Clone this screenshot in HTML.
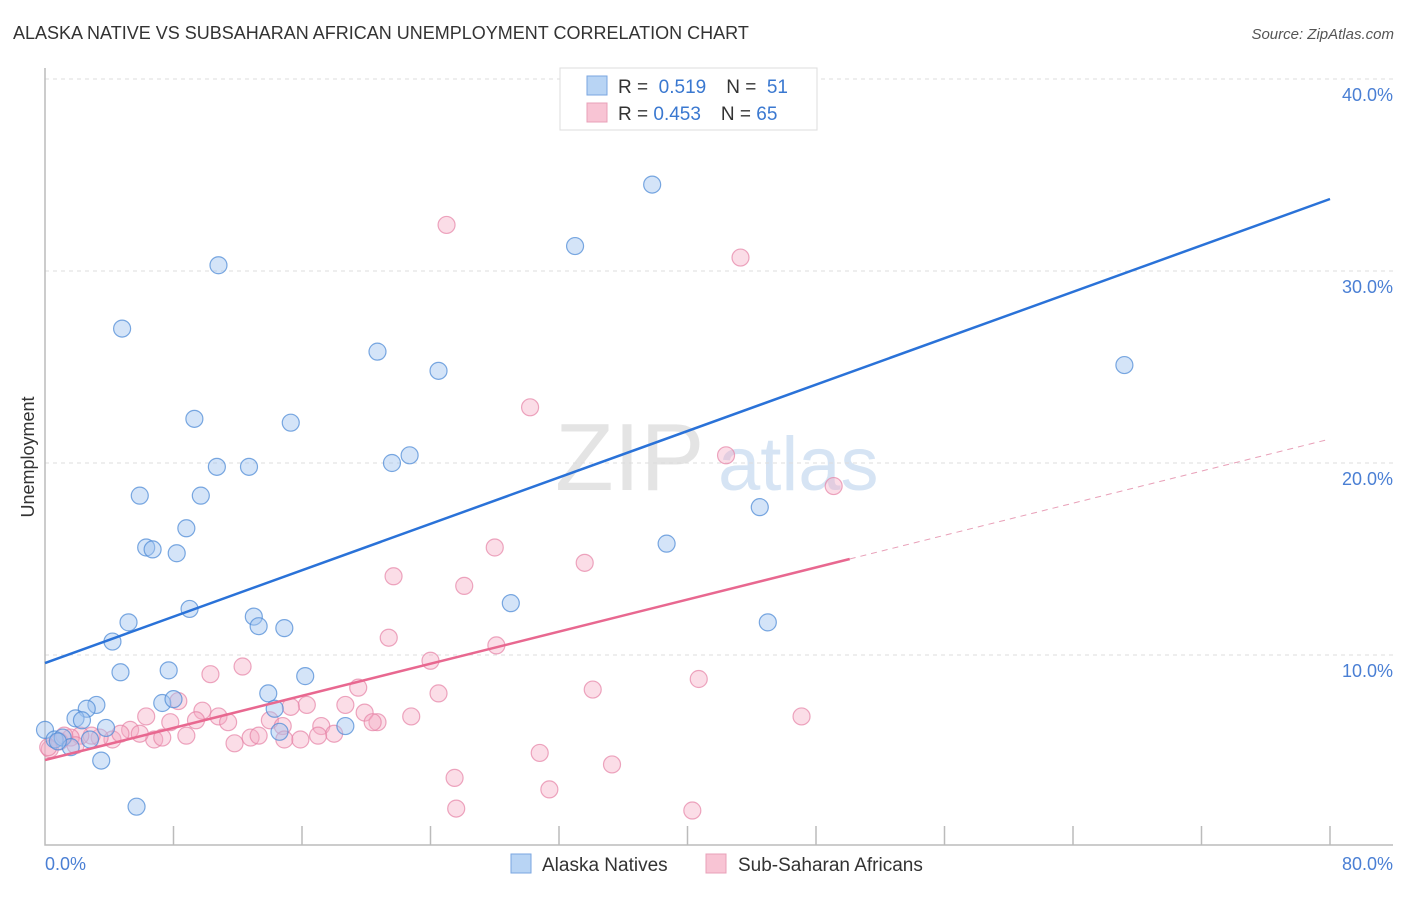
<!DOCTYPE html>
<html><head><meta charset="utf-8"><style>
body{margin:0;background:#fff;font-family:"Liberation Sans",sans-serif}
svg text{font-family:"Liberation Sans",sans-serif}
</style></head><body>
<svg id="c" width="1406" height="892" xmlns="http://www.w3.org/2000/svg">
<text x="13" y="39" font-size="18" fill="#333">ALASKA NATIVE VS SUBSAHARAN AFRICAN UNEMPLOYMENT CORRELATION CHART</text>
<text x="1394" y="39" font-size="15" fill="#555" text-anchor="end" font-style="italic">Source: ZipAtlas.com</text>
<text x="555" y="490" font-size="96" fill="#e4e4e4" font-family="Liberation Serif">ZIP</text>
<text x="718" y="490" font-size="76" fill="#d6e4f4">atlas</text>
<g id="grid"></g>
<g id="pts"></g>
<g id="lines"></g>
<text transform="translate(34,457) rotate(-90)" font-size="18" fill="#333" text-anchor="middle">Unemployment</text>
<text x="45" y="870" font-size="18" fill="#4a7fd4">0.0%</text>
<text x="1393" y="870" font-size="18" fill="#4a7fd4" text-anchor="end">80.0%</text>
<g>
<rect x="560" y="68" width="257" height="62" fill="#fff" stroke="#ddd"/>
<rect x="587" y="76" width="20" height="19" fill="#b8d4f4" stroke="#7aa6e0"/>
<rect x="587" y="103" width="20" height="19" fill="#f8c4d4" stroke="#e8a0b8"/>
<text x="618" y="93" font-size="19" fill="#333">R = <tspan fill="#3a78d0">&#160;0.519</tspan><tspan dx="20">N = </tspan><tspan fill="#3a78d0">&#160;51</tspan></text>
<text x="618" y="120" font-size="19" fill="#333">R = <tspan fill="#3a78d0">0.453</tspan><tspan dx="20">N = </tspan><tspan fill="#3a78d0">65</tspan></text>
</g>
<g>
<rect x="511" y="854" width="20" height="19" fill="#b8d4f4" stroke="#7aa6e0"/>
<text x="542" y="871" font-size="19" fill="#333">Alaska Natives</text>
<rect x="706" y="854" width="20" height="19" fill="#f8c4d4" stroke="#e8a0b8"/>
<text x="738" y="871" font-size="19" fill="#333">Sub-Saharan Africans</text>
</g>
</svg>
<script>
const yTicks=[10,20,30,40];
const yTickLabels=["10.0%","20.0%","30.0%","40.0%"];
const xTicks=[8,16,24,32,40,48,56,64,72,80];
const blueX=[37.8,33.0,10.8,4.8,20.7,24.5,67.2,9.3,15.3,10.7,12.7,21.6,22.7,5.9,9.7,44.5,8.8,6.3,6.7,8.2,38.7,29.0,9.0,5.2,13.0,13.3,14.9,45.0,4.2,7.7,4.7,16.2,7.3,8.0,13.9,14.3,3.2,2.6,1.9,2.3,0,0.6,1.1,1.6,2.8,3.8,14.6,18.7,3.5,5.7,0.8];
const blueY=[34.5,31.3,30.3,27.0,25.8,24.8,25.1,22.3,22.1,19.8,19.8,20.0,20.4,18.3,18.3,17.7,16.6,15.6,15.5,15.3,15.8,12.7,12.4,11.7,12.0,11.5,11.4,11.7,10.7,9.2,9.1,8.9,7.5,7.7,8.0,7.2,7.4,7.2,6.7,6.6,6.1,5.6,5.7,5.2,5.6,6.2,6.0,6.3,4.5,2.1,5.5];
const pinkX=[25.0,43.3,30.2,42.4,49.1,28.0,33.6,21.7,26.1,21.4,28.1,24.0,12.3,10.3,40.7,34.1,19.5,24.5,8.3,18.7,16.3,15.3,9.8,10.8,11.4,19.9,22.8,47.1,6.3,9.4,7.8,14.0,14.8,17.2,18.0,20.7,20.4,6.8,7.3,8.8,5.3,4.2,4.7,3.4,2.9,2.2,1.6,0.9,0.3,11.8,12.8,13.3,14.9,15.9,17.0,30.8,25.5,35.3,31.4,25.6,40.3,1.9,1.2,5.9,0.2];
const pinkY=[32.4,30.7,22.9,20.4,18.8,15.6,14.8,14.1,13.6,10.9,10.5,9.7,9.4,9.0,8.75,8.2,8.3,8.0,7.6,7.4,7.4,7.3,7.1,6.8,6.5,7.0,6.8,6.8,6.8,6.6,6.5,6.6,6.3,6.3,5.9,6.5,6.5,5.6,5.7,5.8,6.1,5.6,5.9,5.7,5.8,5.8,5.7,5.5,5.1,5.4,5.7,5.8,5.6,5.6,5.8,4.9,3.6,4.3,3.0,2.0,1.9,5.3,5.8,5.9,5.2];
const blueLine=[9.58,33.75];
const pinkLine=[4.53,21.25];
const pinkSolidEnd=50.1;
const X=v=>45+v/80*1285, Y=v=>847-v*19.2;
const NS="http://www.w3.org/2000/svg";
function mk(t,a,p){const e=document.createElementNS(NS,t);for(const k in a)e.setAttribute(k,a[k]);p.appendChild(e);return e;}
const g=document.getElementById('grid');
yTicks.forEach((t,i)=>{
 const l=mk('line',{x1:45,x2:1393,y1:Y(t),y2:Y(t),stroke:'#ddd','stroke-dasharray':'4,4'},g);
 
 
 const tx=mk('text',{x:1393,y:Y(t)+22,'font-size':18,fill:'#4a7fd4','text-anchor':'end'},g);
 tx.textContent=yTickLabels[i];
 
 
});
const ax=mk('path',{d:'M45,68V845H1393',fill:'none',stroke:'#bbb','stroke-width':1.5},g);


xTicks.forEach(v=>{
 const t=mk('line',{x1:X(v),x2:X(v),y1:826,y2:845,stroke:'#bbb','stroke-width':1.5},g);
 
 
});
const p=document.getElementById('pts');
pinkX.forEach((x,i)=>{
 const c=mk('circle',{cx:X(x),cy:Y(pinkY[i]),r:8.5,fill:'rgba(244,170,196,0.4)',stroke:'rgba(230,130,165,0.7)','stroke-width':1.2},p);
 
 
});
blueX.forEach((x,i)=>{
 const c=mk('circle',{cx:X(x),cy:Y(blueY[i]),r:8.5,fill:'rgba(160,196,240,0.45)',stroke:'rgba(80,140,215,0.75)','stroke-width':1.2},p);
 
 
});
const L=document.getElementById('lines');
const bl=mk('line',{x1:X(0),y1:Y(blueLine[0]),x2:X(80),y2:Y(blueLine[1]),stroke:'#2a72d8','stroke-width':2.5},L);


const pv=x=>pinkLine[0]+(pinkLine[1]-pinkLine[0])*x/80;
const pl=mk('line',{x1:X(0),y1:Y(pv(0)),x2:X(pinkSolidEnd),y2:Y(pv(pinkSolidEnd)),stroke:'#e86890','stroke-width':2.5},L);


const pd=mk('line',{x1:X(pinkSolidEnd),y1:Y(pv(pinkSolidEnd)),x2:X(80),y2:Y(pv(80)),stroke:'#e8a0b8','stroke-width':1,'stroke-dasharray':'6,5'},L);


</script>
</body></html>
